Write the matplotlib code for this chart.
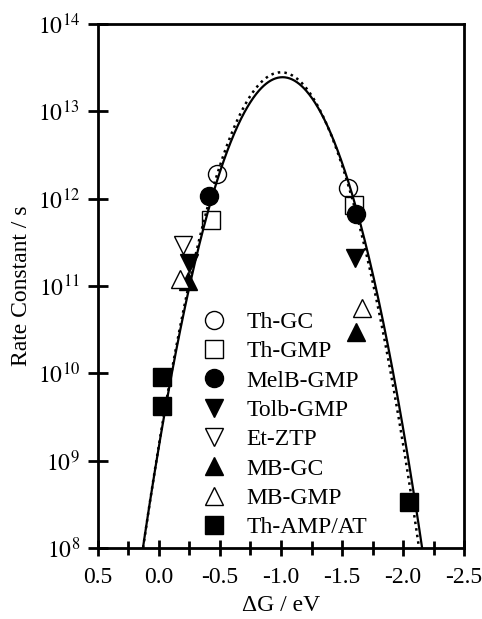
import numpy as np
import matplotlib.pyplot as plt
from matplotlib.ticker import MultipleLocator, FixedLocator

plt.rcParams['font.family'] = ['Liberation Serif', 'DejaVu Serif']
plt.rcParams['mathtext.fontset'] = 'stix'
plt.rcParams['axes.unicode_minus'] = False

# Data (dG in eV, rate in 1/s)
th_gc_dg = [-0.475, -1.549]
th_gc_k = [1.9e12, 1.32e12]
th_gmp_dg = [-0.426, -1.598]
th_gmp_k = [5.7e11, 8.5e11]
melb_dg = [-0.41, -1.615]
melb_k = [1.07e12, 6.7e11]
tolb_dg = [-0.246, -1.607]
tolb_k = [1.83e11, 2.1e11]
etztp_dg = [-0.197]
etztp_k = [2.96e11]
mbgc_dg = [-0.238, -1.615]
mbgc_k = [1.15e11, 2.96e10]
mbgmp_dg = [-0.172, -1.664]
mbgmp_k = [1.2e11, 5.6e10]
thamp_dg = [-0.025, -0.025, -2.049]
thamp_k = [9.06e9, 4.2e9, 3.35e8]

y_ticks = [1e8, 1e9, 1e10, 1e11, 1e12, 1e13, 1e14]
y_labels = ['$10^{8}$', '$10^{9}$', '$10^{10}$', '$10^{11}$',
            '$10^{12}$', '$10^{13}$', '$10^{14}$']

# Marcus fit parameters (lambda, kT, k_max)
fit_solid = (1.0125, 0.0260, 2.46e13)
fit_dotted = (1.0005, 0.02545, 2.8e13)


def marcus(dg, lam, kt, kmax):
    return kmax * np.exp(-(dg + lam) ** 2 / (4 * lam * kt))


fig = plt.figure(figsize=(4.82, 6.19), dpi=100)
ax = fig.add_axes([0.203, 0.1147, 0.760, 0.8465])

dg = np.linspace(0.4, -2.5, 600)
ax.plot(dg, marcus(dg, *fit_dotted), color='black', lw=1.8, ls=':', zorder=2)
ax.plot(dg, marcus(dg, *fit_solid), color='black', lw=1.6, ls='-', zorder=2)

ms = 13
kw = dict(ls='none', color='black', ms=ms, mew=1.0, zorder=3)
ax.plot(th_gc_dg, th_gc_k, marker='o', mfc='none', label='Th-GC', **kw)
ax.plot(th_gmp_dg, th_gmp_k, marker='s', mfc='none', label='Th-GMP', **kw)
ax.plot(melb_dg, melb_k, marker='o', mfc='black', label='MelB-GMP', **kw)
ax.plot(tolb_dg, tolb_k, marker='v', mfc='black', label='Tolb-GMP', **kw)
ax.plot(etztp_dg, etztp_k, marker='v', mfc='white', label='Et-ZTP', **kw)
ax.plot(mbgc_dg, mbgc_k, marker='^', mfc='black', label='MB-GC', **kw)
ax.plot(mbgmp_dg, mbgmp_k, marker='^', mfc='white', label='MB-GMP', **kw)
ax.plot(thamp_dg, thamp_k, marker='s', mfc='black', label='Th-AMP/AT', **kw)

ax.set_yscale('log')
ax.set_ylim(1e8, 1e14)
ax.set_xlim(0.5, -2.5)

ax.xaxis.set_major_locator(MultipleLocator(0.5))
ax.xaxis.set_minor_locator(MultipleLocator(0.25))
ax.xaxis.set_major_formatter(plt.FuncFormatter(lambda v, p: f'{v:.1f}'))
ax.set_yticks(y_ticks, y_labels)
ax.yaxis.set_minor_locator(FixedLocator([]))

ax.tick_params(axis='both', which='both', direction='inout', width=2,
               labelsize=17, top=False, right=False)
ax.tick_params(axis='x', which='major', length=12, pad=8)
ax.tick_params(axis='x', which='minor', length=10)
ax.tick_params(axis='y', which='major', length=14, pad=6)
for s in ax.spines.values():
    s.set_linewidth(2)

ax.set_xlabel('ΔG / eV', fontsize=17, labelpad=5)
ax.set_ylabel('Rate Constant / s', fontsize=17, labelpad=4)

ax.legend(loc='lower left', bbox_to_anchor=(0.241, -0.013), frameon=False,
          fontsize=17, handlelength=1.0, handletextpad=0.85,
          labelspacing=0.33, borderpad=0.2)

fig.savefig('out.png', dpi=100)
